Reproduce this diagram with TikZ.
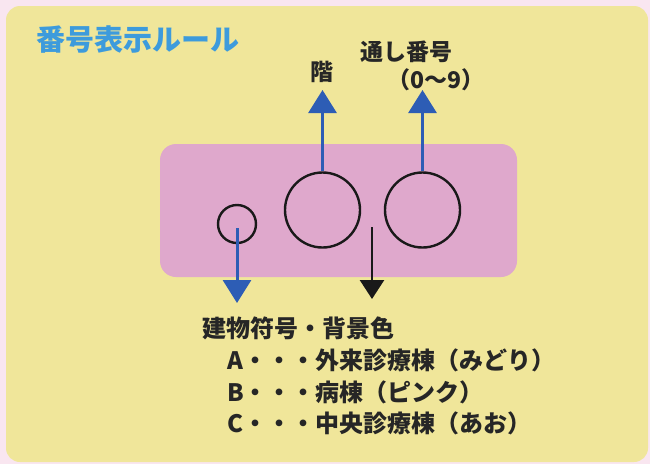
\documentclass[tikz,border=0pt]{standalone}
\usepackage{fontspec}
\setmainfont{Noto Sans CJK JP}
\usetikzlibrary{arrows.meta}
\definecolor{bgpink}{HTML}{F9E6F0}
\definecolor{panel}{HTML}{F0E69A}
\definecolor{boxpink}{HTML}{DFA8CC}
\definecolor{titleblue}{HTML}{3D9BDC}
\definecolor{arrowblue}{HTML}{2D5DB5}
\tikzset{
  lbl/.style={inner sep=0pt, font=\bfseries\fontsize{24}{28}\selectfont, text=black!85},
  toplbl/.style={inner sep=0pt, font=\bfseries\fontsize{23}{27}\selectfont, text=black!85},
  ring/.style={circle, draw=black!90, line width=2.4pt, inner sep=0pt},
  bluearrow/.style={draw=arrowblue, line width=3pt, -{Triangle[length=23pt,width=28pt]}, arrowblue},
  blackarrow/.style={draw=black!90, line width=2.6pt, -{Triangle[length=19pt,width=24pt]}, black!90},
}
\begin{document}
\begin{tikzpicture}[x=1pt,y=-1pt]
\useasboundingbox (0,0) rectangle (650,464);
\fill[bgpink] (0,0) rectangle (650,464);
\fill[panel, rounded corners=14pt] (6,6) rectangle (648,462);
\fill[boxpink, rounded corners=16pt] (160,144) rectangle (517,277);
\node[inner sep=0pt, font=\bfseries\fontsize{29}{33}\selectfont, text=titleblue] (title) at (137.5,40) {番号表示ルール};
\node[ring, minimum size=38pt] (small) at (237,224) {};
\node[ring, minimum size=75pt] (floor) at (322.5,210) {};
\node[ring, minimum size=75pt] (serial) at (422.5,210) {};
\node[toplbl] (kai) at (322,72) {階};
\node[toplbl] (tsushi) at (406,52) {通し番号};
\node[toplbl] (range) at (436,80) {（0～9）};
\coordinate (kaitip) at (322.5,90);
\coordinate (sertip) at (422.5,90);
\draw[bluearrow] (floor.north) -- (kaitip);
\draw[bluearrow] (serial.north) -- (sertip);
\coordinate (smallstart) at (237,228);
\coordinate (smalltip) at (237,303);
\draw[bluearrow] (smallstart) -- (smalltip);
\coordinate (blkstart) at (372,227);
\coordinate (blktip) at (372,299);
\draw[blackarrow] (blkstart) -- (blktip);
\node[lbl, anchor=west] (head) at (202,328) {建物符号・背景色};
\node[lbl, anchor=west] (la) at (227,360) {A・・・外来診療棟（みどり）};
\node[lbl, anchor=west] (lb) at (227,392) {B・・・病棟（ピンク）};
\node[lbl, anchor=west] (lc) at (227,423) {C・・・中央診療棟（あお）};
\end{tikzpicture}
\end{document}
